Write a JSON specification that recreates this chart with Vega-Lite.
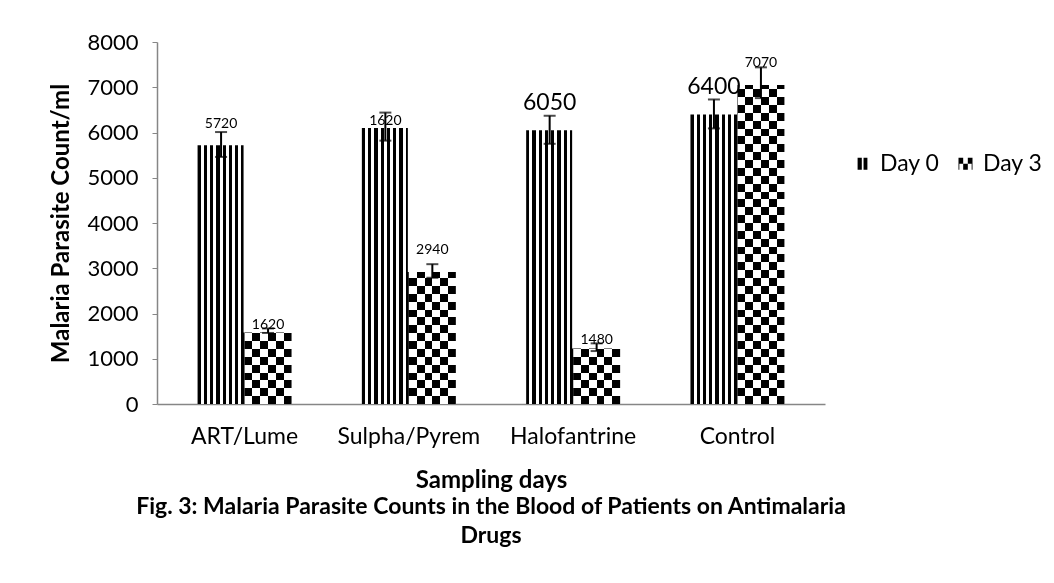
{
  "$schema": "https://vega.github.io/schema/vega-lite/v6.json",
  "autosize": {"type": "none"},
  "padding": {"left": 157, "top": 42, "right": 229, "bottom": 179},
  "width": 668,
  "height": 362,
  "background": "white",
  "config": {
    "font": "Lato",
    "view": {"stroke": null},
    "axis": {"labelColor": "black", "titleColor": "black", "labelFont": "Lato", "titleFont": "Lato"},
    "legend": {"labelFont": "Lato", "labelColor": "black"}
  },
  "title": {
    "text": ["Fig. 3: Malaria Parasite Counts in the Blood of Patients on Antimalaria", "Drugs"],
    "orient": "bottom",
    "anchor": "middle",
    "frame": "group",
    "font": "Lato",
    "fontSize": 23,
    "fontWeight": "bold",
    "color": "black",
    "lineHeight": 29,
    "offset": 4
  },
  "data": {
    "values": [
      {"drug": "ART/Lume", "day": "Day 0", "value": 5720, "lo": 5460, "hi": 6010, "label": "5720"},
      {"drug": "ART/Lume", "day": "Day 3", "value": 1600, "lo": 1570, "hi": 1670, "label": "1620"},
      {"drug": "Sulpha/Pyrem", "day": "Day 0", "value": 6100, "lo": 5820, "hi": 6440, "label": "1620"},
      {"drug": "Sulpha/Pyrem", "day": "Day 3", "value": 2940, "lo": 2790, "hi": 3090, "label": "2940"},
      {"drug": "Halofantrine", "day": "Day 0", "value": 6050, "lo": 5750, "hi": 6370, "label": "6050"},
      {"drug": "Halofantrine", "day": "Day 3", "value": 1250, "lo": 1170, "hi": 1340, "label": "1480"},
      {"drug": "Control", "day": "Day 0", "value": 6400, "lo": 6090, "hi": 6730, "label": "6400"},
      {"drug": "Control", "day": "Day 3", "value": 7070, "lo": 6760, "hi": 7440, "label": "7070"}
    ]
  },
  "encoding": {
    "x": {
      "field": "drug", "type": "nominal",
      "sort": ["ART/Lume", "Sulpha/Pyrem", "Halofantrine", "Control"],
      "scale": {"paddingInner": 0.428, "paddingOuter": 0.247},
      "axis": {
        "title": "Sampling days", "labelAngle": 0, "ticks": false,
        "domainColor": "#868686", "domainWidth": 1.5,
        "labelFontSize": 23, "labelPadding": 21,
        "titleFontSize": 24, "titleFontWeight": "bold", "titlePadding": 20
      }
    },
    "xOffset": {"field": "day", "type": "nominal", "scale": {"domain": ["Day 0", "Day 3"]}},
    "y": {
      "field": "value", "type": "quantitative", "stack": null,
      "scale": {"domain": [0, 8000], "nice": false},
      "axis": {
        "title": "Malaria Parasite Count/ml",
        "values": [0, 1000, 2000, 3000, 4000, 5000, 6000, 7000, 8000],
        "format": "d", "grid": false,
        "domainColor": "#868686", "domainWidth": 1.5, "tickColor": "#868686", "tickSize": 5,
        "labelFontSize": 22, "labelPadding": 14,
        "titleFontSize": 24, "titleFontWeight": "bold", "titlePadding": 13
      }
    }
  },
  "layer": [
    {
      "transform": [{"filter": "datum.day == 'Day 0'"}],
      "mark": {
        "type": "bar",
        "color": {
          "gradient": "linear", "x1": 0, "y1": 0, "x2": 1, "y2": 0,
          "stops": [
            {"offset": 0, "color": "#000"}, {"offset": 0.07, "color": "#000"}, {"offset": 0.07, "color": "#fff"}, {"offset": 0.1329, "color": "#fff"},
            {"offset": 0.1329, "color": "#000"}, {"offset": 0.2029, "color": "#000"}, {"offset": 0.2029, "color": "#fff"}, {"offset": 0.2657, "color": "#fff"},
            {"offset": 0.2657, "color": "#000"}, {"offset": 0.3357, "color": "#000"}, {"offset": 0.3357, "color": "#fff"}, {"offset": 0.3986, "color": "#fff"},
            {"offset": 0.3986, "color": "#000"}, {"offset": 0.4686, "color": "#000"}, {"offset": 0.4686, "color": "#fff"}, {"offset": 0.5314, "color": "#fff"},
            {"offset": 0.5314, "color": "#000"}, {"offset": 0.6014, "color": "#000"}, {"offset": 0.6014, "color": "#fff"}, {"offset": 0.6643, "color": "#fff"},
            {"offset": 0.6643, "color": "#000"}, {"offset": 0.7343, "color": "#000"}, {"offset": 0.7343, "color": "#fff"}, {"offset": 0.7971, "color": "#fff"},
            {"offset": 0.7971, "color": "#000"}, {"offset": 0.8671, "color": "#000"}, {"offset": 0.8671, "color": "#fff"}, {"offset": 0.93, "color": "#fff"},
            {"offset": 0.93, "color": "#000"}, {"offset": 1, "color": "#000"}
          ]
        }
      }
    },
    {
      "transform": [{"filter": "datum.day == 'Day 3'"}],
      "mark": {
        "type": "bar",
        "color": {
          "gradient": "linear", "x1": 0, "y1": 0, "x2": 1, "y2": 0,
          "stops": [
            {"offset": 0, "color": "#000"}, {"offset": 0.1667, "color": "#000"}, {"offset": 0.1667, "color": "#fff"}, {"offset": 0.3333, "color": "#fff"},
            {"offset": 0.3333, "color": "#000"}, {"offset": 0.5, "color": "#000"}, {"offset": 0.5, "color": "#fff"}, {"offset": 0.6667, "color": "#fff"},
            {"offset": 0.6667, "color": "#000"}, {"offset": 0.8333, "color": "#000"}, {"offset": 0.8333, "color": "#fff"}, {"offset": 1, "color": "#fff"}
          ]
        }
      },
      "encoding": {
        "y": {"datum": 0, "type": "quantitative"},
        "y2": {"datum": 8000}
      }
    },
    {
      "transform": [{"filter": "datum.day == 'Day 3'"}],
      "mark": {
        "type": "bar",
        "blend": "difference",
        "color": {
          "gradient": "linear", "x1": 0, "y1": 0, "x2": 0, "y2": 1,
          "stops": [
            {"offset": 0, "color": "#000"}, {"offset": 0.0217, "color": "#000"},
            {"offset": 0.0217, "color": "#fff"}, {"offset": 0.0435, "color": "#fff"},
            {"offset": 0.0435, "color": "#000"}, {"offset": 0.0652, "color": "#000"},
            {"offset": 0.0652, "color": "#fff"}, {"offset": 0.087, "color": "#fff"},
            {"offset": 0.087, "color": "#000"}, {"offset": 0.1087, "color": "#000"},
            {"offset": 0.1087, "color": "#fff"}, {"offset": 0.1304, "color": "#fff"},
            {"offset": 0.1304, "color": "#000"}, {"offset": 0.1522, "color": "#000"},
            {"offset": 0.1522, "color": "#fff"}, {"offset": 0.1739, "color": "#fff"},
            {"offset": 0.1739, "color": "#000"}, {"offset": 0.1957, "color": "#000"},
            {"offset": 0.1957, "color": "#fff"}, {"offset": 0.2174, "color": "#fff"},
            {"offset": 0.2174, "color": "#000"}, {"offset": 0.2391, "color": "#000"},
            {"offset": 0.2391, "color": "#fff"}, {"offset": 0.2609, "color": "#fff"},
            {"offset": 0.2609, "color": "#000"}, {"offset": 0.2826, "color": "#000"},
            {"offset": 0.2826, "color": "#fff"}, {"offset": 0.3043, "color": "#fff"},
            {"offset": 0.3043, "color": "#000"}, {"offset": 0.3261, "color": "#000"},
            {"offset": 0.3261, "color": "#fff"}, {"offset": 0.3478, "color": "#fff"},
            {"offset": 0.3478, "color": "#000"}, {"offset": 0.3696, "color": "#000"},
            {"offset": 0.3696, "color": "#fff"}, {"offset": 0.3913, "color": "#fff"},
            {"offset": 0.3913, "color": "#000"}, {"offset": 0.413, "color": "#000"},
            {"offset": 0.413, "color": "#fff"}, {"offset": 0.4348, "color": "#fff"},
            {"offset": 0.4348, "color": "#000"}, {"offset": 0.4565, "color": "#000"},
            {"offset": 0.4565, "color": "#fff"}, {"offset": 0.4783, "color": "#fff"},
            {"offset": 0.4783, "color": "#000"}, {"offset": 0.5, "color": "#000"},
            {"offset": 0.5, "color": "#fff"}, {"offset": 0.5217, "color": "#fff"},
            {"offset": 0.5217, "color": "#000"}, {"offset": 0.5435, "color": "#000"},
            {"offset": 0.5435, "color": "#fff"}, {"offset": 0.5652, "color": "#fff"},
            {"offset": 0.5652, "color": "#000"}, {"offset": 0.587, "color": "#000"},
            {"offset": 0.587, "color": "#fff"}, {"offset": 0.6087, "color": "#fff"},
            {"offset": 0.6087, "color": "#000"}, {"offset": 0.6304, "color": "#000"},
            {"offset": 0.6304, "color": "#fff"}, {"offset": 0.6522, "color": "#fff"},
            {"offset": 0.6522, "color": "#000"}, {"offset": 0.6739, "color": "#000"},
            {"offset": 0.6739, "color": "#fff"}, {"offset": 0.6957, "color": "#fff"},
            {"offset": 0.6957, "color": "#000"}, {"offset": 0.7174, "color": "#000"},
            {"offset": 0.7174, "color": "#fff"}, {"offset": 0.7391, "color": "#fff"},
            {"offset": 0.7391, "color": "#000"}, {"offset": 0.7609, "color": "#000"},
            {"offset": 0.7609, "color": "#fff"}, {"offset": 0.7826, "color": "#fff"},
            {"offset": 0.7826, "color": "#000"}, {"offset": 0.8043, "color": "#000"},
            {"offset": 0.8043, "color": "#fff"}, {"offset": 0.8261, "color": "#fff"},
            {"offset": 0.8261, "color": "#000"}, {"offset": 0.8478, "color": "#000"},
            {"offset": 0.8478, "color": "#fff"}, {"offset": 0.8696, "color": "#fff"},
            {"offset": 0.8696, "color": "#000"}, {"offset": 0.8913, "color": "#000"},
            {"offset": 0.8913, "color": "#fff"}, {"offset": 0.913, "color": "#fff"},
            {"offset": 0.913, "color": "#000"}, {"offset": 0.9348, "color": "#000"},
            {"offset": 0.9348, "color": "#fff"}, {"offset": 0.9565, "color": "#fff"},
            {"offset": 0.9565, "color": "#000"}, {"offset": 0.9783, "color": "#000"},
            {"offset": 0.9783, "color": "#fff"}, {"offset": 1, "color": "#fff"}
          ]
        }
      },
      "encoding": {
        "y": {"datum": 0, "type": "quantitative"},
        "y2": {"datum": 8000}
      }
    },
    {
      "transform": [{"filter": "datum.day == 'Day 3'"}],
      "mark": {"type": "bar", "color": "white", "stroke": "white", "strokeWidth": 2},
      "encoding": {
        "y2": {"datum": 8000}
      }
    },
    {
      "mark": {"type": "rule", "color": "black", "strokeWidth": 2},
      "encoding": {
        "y": {"field": "lo", "type": "quantitative"},
        "y2": {"field": "hi"}
      }
    },
    {
      "mark": {"type": "tick", "color": "black", "thickness": 2, "size": 12, "orient": "horizontal"},
      "encoding": {"y": {"field": "hi", "type": "quantitative"}}
    },
    {
      "mark": {"type": "tick", "color": "black", "thickness": 2, "size": 12, "orient": "horizontal"},
      "encoding": {"y": {"field": "lo", "type": "quantitative"}}
    },
    {
      "transform": [{"filter": "(datum.drug == 'ART/Lume' && datum.day == 'Day 0') || (datum.drug == 'Sulpha/Pyrem' && datum.day == 'Day 3') || (datum.drug == 'Control' && datum.day == 'Day 3')"}],
      "mark": {"type": "text", "font": "Lato", "fontSize": 14, "color": "black", "baseline": "middle", "dy": -21},
      "encoding": {"text": {"field": "label"}}
    },
    {
      "transform": [{"filter": "(datum.drug == 'ART/Lume' && datum.day == 'Day 3') || (datum.drug == 'Sulpha/Pyrem' && datum.day == 'Day 0') || (datum.drug == 'Halofantrine' && datum.day == 'Day 3')"}],
      "mark": {"type": "text", "font": "Lato", "fontSize": 14, "color": "black", "baseline": "middle", "dy": -7},
      "encoding": {"text": {"field": "label"}}
    },
    {
      "transform": [{"filter": "(datum.drug == 'Halofantrine' || datum.drug == 'Control') && datum.day == 'Day 0'"}],
      "mark": {"type": "text", "font": "Lato", "fontSize": 23, "color": "black", "baseline": "middle", "dy": -27},
      "encoding": {"text": {"field": "label"}}
    },
    {
      "mark": {"type": "point", "filled": true, "color": "black", "opacity": 0},
      "encoding": {
        "shape": {
          "field": "day", "type": "nominal",
          "scale": {
            "domain": ["Day 0", "Day 3"],
            "range": [
              "M-0.7,-0.85H-0.1V0.85H-0.7Z M0.15,-0.85H0.7V0.85H0.15Z",
              "M-1,-0.85H-0.33V0H-1Z M0.33,-0.85H1V0H0.33Z M-0.33,0H0.33V0.85H-0.33Z M0.88,0H1V0.85H0.88Z M-1,0H-0.88V0.85H-1Z"
            ]
          },
          "legend": {
            "title": null, "orient": "none", "legendX": 694, "legendY": 110,
            "direction": "horizontal", "columns": 2, "padding": 0,
            "labelFontSize": 23, "labelOffset": 6, "columnPadding": 14,
            "symbolSize": 196, "symbolFillColor": "black", "symbolStrokeWidth": 0, "symbolOpacity": 1
          }
        }
      }
    }
  ]
}
